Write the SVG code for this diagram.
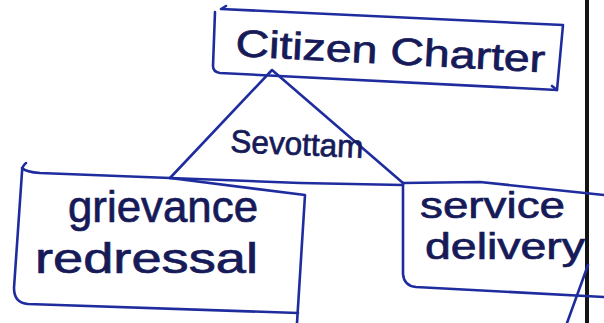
<svg xmlns="http://www.w3.org/2000/svg" width="604" height="323" viewBox="0 0 604 323">
<style>
.ink{fill:none;stroke:#1f2c9e;stroke-width:2.6;stroke-linecap:round;stroke-linejoin:round}
.txt{font-family:"Liberation Sans",Arial,sans-serif;fill:#161a58;stroke:#161a58;stroke-width:0.7}
</style>
<rect x="0" y="0" width="604" height="323" fill="#ffffff"/>
<line x1="587" y1="0" x2="587" y2="323" stroke="#141414" stroke-width="4"/>
<g id="connectors">
<path class="ink" d="M170,178 L272,70 L403,183"/>
<path class="ink" d="M170,178 L300,183 L403,185"/>
<path class="ink" d="M588,265 L567,323"/>
<text class="txt" x="230" y="152" font-size="32" textLength="133" lengthAdjust="spacingAndGlyphs" transform="rotate(2.5 230 152)">Sevottam</text>
</g>
<g id="node-citizen-charter">
<path class="ink" d="M226,6 L221,9 L563,25 L557,90 L220,73 Q213,72 213,66 L215,12"/>
<path class="ink" d="M557,90 L552,86"/>
<text class="txt" x="235" y="56" font-size="38" textLength="310" lengthAdjust="spacingAndGlyphs" transform="rotate(3 235 56)">Citizen Charter</text>
</g>
<g id="node-grievance">
<path class="ink" d="M26,163 Q22,166 22,172 L14,288 Q14,303 28,304 L298,313"/>
<path class="ink" d="M22,168 Q26,172 40,173 L170,178 L305,195 L297,323"/>
<text class="txt" x="68" y="222" font-size="44" textLength="190" lengthAdjust="spacingAndGlyphs">grievance</text>
<text class="txt" x="35" y="273" font-size="42" textLength="223" lengthAdjust="spacingAndGlyphs">redressal</text>
</g>
<g id="node-service">
<path class="ink" d="M403,183 L480,182 L604,195"/>
<path class="ink" d="M403,183 L403,274 Q404,286 416,287 L604,297"/>
<text class="txt" x="420" y="218" font-size="37" textLength="145" lengthAdjust="spacingAndGlyphs">service</text>
<text class="txt" x="425" y="259" font-size="36" textLength="160" lengthAdjust="spacingAndGlyphs">delivery</text>
</g>
</svg>
